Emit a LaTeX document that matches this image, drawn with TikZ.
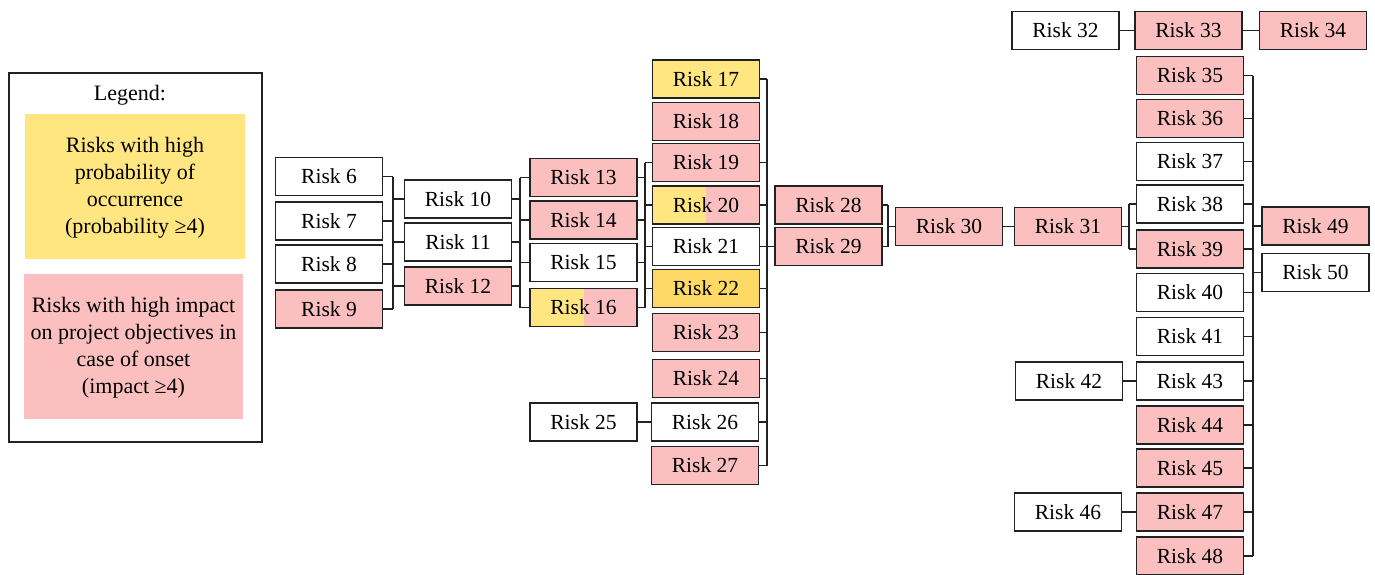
\documentclass[tikz,border=0pt]{standalone}
\usepackage{fontspec}
\setmainfont{Liberation Serif}
\definecolor{pk}{HTML}{FBBFBF}
\definecolor{yl}{HTML}{FFE680}
\definecolor{og}{HTML}{FFD966}
\definecolor{ln}{HTML}{222222}
\begin{document}
\begin{tikzpicture}[x=1pt,y=-1pt,
  rb/.style={draw=ln,line width=1.3pt,minimum width=107pt,minimum height=38pt,inner sep=0pt,
    font=\fontsize{21.5}{26}\selectfont,fill=white},
  pkb/.style={rb,fill=pk},
  ylb/.style={rb,fill=yl},
  ogb/.style={rb,fill=og},
  halfb/.style={rb,fill=pk,path picture={\fill[yl] (path picture bounding box.south west) rectangle (path picture bounding box.north);}},
  cn/.style={draw=ln,line width=1.3pt},
  legtxt/.style={font=\fontsize{22}{27}\selectfont,align=center,inner sep=0pt}]
\useasboundingbox (0,0) rectangle (1375,574);
% legend
\node[draw=ln,line width=1.3pt,minimum width=253pt,minimum height=369pt,inner sep=0pt] (leg) at (135.5,257.5) {};
\node[legtxt] (legt) at (130,95) {Legend:};
\node[fill=yl,minimum width=220pt,minimum height=145pt,inner sep=0pt] (ly) at (135,186.5) {};
\node[legtxt] (lyt) at (135,187.5) {Risks with high\\probability of\\occurrence\\(probability ≥4)};
\node[fill=pk,minimum width=219pt,minimum height=145pt,inner sep=0pt] (lp) at (133.5,346.5) {};
\node[legtxt] (lpt) at (133.5,347.5) {Risks with high impact\\on project objectives in\\case of onset\\(impact ≥4)};
% column A
\node[rb] (r6) at (329,176.5) {Risk 6};
\node[rb] (r7) at (329,221) {Risk 7};
\node[rb] (r8) at (329,264) {Risk 8};
\node[pkb] (r9) at (329,309) {Risk 9};
% column B
\node[rb] (r10) at (458,199) {Risk 10};
\node[rb] (r11) at (458,242) {Risk 11};
\node[pkb] (r12) at (458,286) {Risk 12};
% column C
\node[pkb] (r13) at (583.5,177.5) {Risk 13};
\node[pkb] (r14) at (583.5,220) {Risk 14};
\node[rb] (r15) at (583.5,262.5) {Risk 15};
\node[halfb] (r16) at (583.5,307.5) {Risk 16};
\node[rb] (r25) at (583.5,422) {Risk 25};
% column D
\node[ylb] (r17) at (706,79) {Risk 17};
\node[pkb] (r18) at (706,121.5) {Risk 18};
\node[pkb] (r19) at (706,162.5) {Risk 19};
\node[halfb] (r20) at (706,205) {Risk 20};
\node[rb] (r21) at (706,246.5) {Risk 21};
\node[ogb] (r22) at (706,288.5) {Risk 22};
\node[pkb] (r23) at (706,332.5) {Risk 23};
\node[pkb] (r24) at (706,378.5) {Risk 24};
\node[rb] (r26) at (705,422) {Risk 26};
\node[pkb] (r27) at (705,465.5) {Risk 27};
% column E
\node[pkb] (r28) at (828.5,205) {Risk 28};
\node[pkb] (r29) at (828.5,246.5) {Risk 29};
\node[pkb] (r30) at (949,226.5) {Risk 30};
\node[pkb] (r31) at (1068,226.5) {Risk 31};
% top row
\node[rb] (r32) at (1065.5,30.5) {Risk 32};
\node[pkb] (r33) at (1188.5,30.5) {Risk 33};
\node[pkb] (r34) at (1313,30.5) {Risk 34};
% column F
\node[pkb] (r35) at (1190,75.5) {Risk 35};
\node[pkb] (r36) at (1190,118.5) {Risk 36};
\node[rb] (r37) at (1190,161.5) {Risk 37};
\node[rb] (r38) at (1190,204) {Risk 38};
\node[pkb] (r39) at (1190,249) {Risk 39};
\node[rb] (r40) at (1190,292.5) {Risk 40};
\node[rb] (r41) at (1190,336.5) {Risk 41};
\node[rb] (r43) at (1190,381) {Risk 43};
\node[pkb] (r44) at (1190,425) {Risk 44};
\node[pkb] (r45) at (1190,468) {Risk 45};
\node[pkb] (r47) at (1190,512) {Risk 47};
\node[pkb] (r48) at (1190,556) {Risk 48};
\node[rb] (r42) at (1069,381) {Risk 42};
\node[rb] (r46) at (1068,512) {Risk 46};
\node[pkb] (r49) at (1315.5,226) {Risk 49};
\node[rb] (r50) at (1315.5,272.5) {Risk 50};
% bar coordinates
\coordinate (b1) at (393,0);
\coordinate (b2) at (520,0);
\coordinate (b3) at (645,0);
\coordinate (b4) at (767,0);
\coordinate (b5) at (888,0);
\coordinate (b6) at (1129,0);
\coordinate (b7) at (1253,0);
% A -> B
\draw[cn] (r6.east -| b1) -- (r9.east -| b1);
\foreach \n in {r6,r7,r8,r9} \draw[cn] (\n.east) -- (\n.east -| b1);
\foreach \n in {r10,r11,r12} \draw[cn] (\n.west -| b1) -- (\n.west);
% B -> C
\draw[cn] (r13.west -| b2) -- (r16.west -| b2);
\foreach \n in {r10,r11,r12} \draw[cn] (\n.east) -- (\n.east -| b2);
\foreach \n in {r13,r14,r15,r16} \draw[cn] (\n.west -| b2) -- (\n.west);
% C -> D
\draw[cn] (r19.west -| b3) -- (r16.east -| b3);
\foreach \n in {r13,r14,r15,r16} \draw[cn] (\n.east) -- (\n.east -| b3);
\foreach \n in {r19,r20,r21,r22} \draw[cn] (\n.west -| b3) -- (\n.west);
% D -> E
\draw[cn] (r17.east -| b4) -- (r27.east -| b4);
\foreach \n in {r17,r19,r20,r22,r23,r24,r26,r27} \draw[cn] (\n.east) -- (\n.east -| b4);
\draw[cn] (r21.east) -- (r29.west);
\draw[cn] (r25) -- (r26);
% E -> 30 -> 31
\draw[cn] (r28.east -| b5) -- (r29.east -| b5);
\foreach \n in {r28,r29} \draw[cn] (\n.east) -- (\n.east -| b5);
\draw[cn] (r30.west -| b5) -- (r30.west);
\draw[cn] (r30) -- (r31);
% 31 -> F
\draw[cn] (r38.west -| b6) -- (r39.west -| b6);
\draw[cn] (r31.east) -- (r31.east -| b6);
\foreach \n in {r38,r39} \draw[cn] (\n.west -| b6) -- (\n.west);
% F -> 49/50
\draw[cn] (r35.east -| b7) -- (r48.east -| b7);
\foreach \n in {r35,r36,r37,r38,r39,r40,r41,r43,r44,r45,r47,r48} \draw[cn] (\n.east) -- (\n.east -| b7);
\foreach \n in {r49,r50} \draw[cn] (\n.west -| b7) -- (\n.west);
% singles
\draw[cn] (r32) -- (r33);
\draw[cn] (r33) -- (r34);
\draw[cn] (r42) -- (r43);
\draw[cn] (r46) -- (r47);
\end{tikzpicture}
\end{document}
